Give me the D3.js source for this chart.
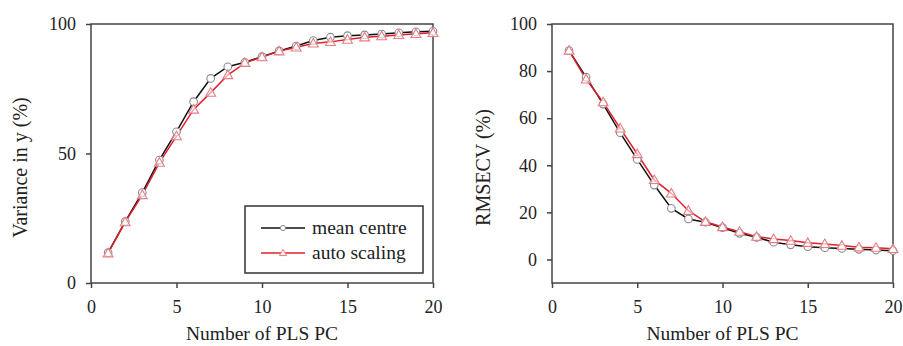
<!DOCTYPE html>
<html>
<head>
<meta charset="utf-8">
<script src="https://cdn.jsdelivr.net/npm/d3@7"></script>
<style>
  body { margin: 0; background: #fff; }
  svg { display: block; }
  text { font-family: "Liberation Serif", "DejaVu Serif", serif; fill: #222; }
  .axis path, .axis line { stroke: #444; stroke-width: 1.5; }
  .axis text { font-size: 18px; }
</style>
</head>
<body>
<svg id="chart" width="903" height="346"></svg>
<script>
var pcs = d3.range(1, 21);

// left panel: variance in y (%)
var varMean = [11.7, 23.7, 34.9, 47.5, 58.4, 70, 79, 83.5, 85.2, 87.4,
               89.6, 91.5, 93.6, 94.9, 95.5, 95.8, 96.1, 96.6, 97, 97.2];
var varAuto = [11.5, 23.5, 34, 46.5, 56.7, 67, 73.5, 80.3, 85, 87.2,
               89.5, 91, 92.5, 93.1, 94, 94.9, 95.3, 95.8, 96.2, 96.6];

// right panel: RMSECV (%)
var rmMean = [88.7, 77.4, 66, 53.8, 42.5, 31.6, 21.7, 17.2, 15.8, 13.5,
              11.1, 9.4, 7.3, 6.2, 5.4, 5.0, 4.7, 4.3, 4.0, 3.7];
var rmAuto = [88.7, 76.5, 66.8, 55.7, 44.8, 33.8, 28.1, 20.7, 16, 13.8,
              11.8, 9.7, 8.7, 8, 7.1, 6.6, 5.9, 5.2, 5.0, 4.5];

var xTicks = [0, 5, 10, 15, 20];
var leftYTicks = [0, 50, 100];
var rightYTicks = [0, 20, 40, 60, 80, 100];
var seriesNames = ["mean centre", "auto scaling"];

var svg = d3.select("#chart");
var tri = d3.symbol().type(d3.symbolTriangle);

function panel(opt) {
  var x = d3.scaleLinear().domain([0, 20]).range([opt.left, opt.right]);
  var y = d3.scaleLinear().domain(opt.ydom).range([opt.bottom, opt.top]);
  var g = svg.append("g");

  // frame
  g.append("rect")
    .attr("x", opt.left).attr("y", opt.top)
    .attr("width", opt.right - opt.left).attr("height", opt.bottom - opt.top)
    .attr("fill", "none").attr("stroke", "#444").attr("stroke-width", 1.5);

  g.append("g").attr("class", "axis")
    .attr("transform", "translate(0," + opt.bottom + ")")
    .call(d3.axisBottom(x).tickValues(xTicks).tickSize(5).tickPadding(12).tickSizeOuter(0))
    .call(s => s.select(".domain").remove());

  g.append("g").attr("class", "axis")
    .attr("transform", "translate(" + opt.left + ",0)")
    .call(d3.axisLeft(y).tickValues(opt.yticks).tickSize(5).tickPadding(10).tickSizeOuter(0))
    .call(s => s.select(".domain").remove());

  var line = d3.line().x((d, i) => x(pcs[i])).y(d => y(d));

  g.append("path").datum(opt.mean)
    .attr("d", line).attr("fill", "none").attr("stroke", "#111").attr("stroke-width", 1.5);
  g.append("path").datum(opt.auto)
    .attr("d", line).attr("fill", "none").attr("stroke", "#e0202a").attr("stroke-width", 1.5);

  g.selectAll(".c").data(opt.mean).enter().append("circle")
    .attr("cx", (d, i) => x(pcs[i])).attr("cy", d => y(d)).attr("r", 3.8)
    .attr("fill", "#fff").attr("stroke", "#8a8a8a").attr("stroke-width", 1.1);
  g.selectAll(".t").data(opt.auto).enter().append("path")
    .attr("d", tri.size(42))
    .attr("transform", (d, i) => "translate(" + x(pcs[i]) + "," + (y(d) + 0.8) + ")")
    .attr("fill", "#fff").attr("fill-opacity", 0.6)
    .attr("stroke", "#e87c84").attr("stroke-width", 1.1);

  g.append("text")
    .attr("x", (opt.left + opt.right) / 2).attr("y", 340)
    .attr("text-anchor", "middle").attr("font-size", 19.5)
    .text("Number of PLS PC");
  g.append("text")
    .attr("transform", "translate(" + opt.titleX + "," + ((opt.top + opt.bottom) / 2 + 14) + ") rotate(-90)")
    .attr("text-anchor", "middle").attr("font-size", 20)
    .text(opt.ytitle);
  return g;
}

var left = panel({
  left: 91, right: 433, top: 24, bottom: 283,
  ydom: [0, 100], yticks: leftYTicks,
  mean: varMean, auto: varAuto,
  ytitle: "Variance in y (%)", titleX: 27
});

panel({
  left: 552, right: 893, top: 24, bottom: 283,
  ydom: [-10, 100], yticks: rightYTicks,
  mean: rmMean, auto: rmAuto,
  ytitle: "RMSECV (%)", titleX: 490
});

// legend
var lg = left.append("g");
lg.append("rect").attr("x", 245).attr("y", 206).attr("width", 178).attr("height", 67)
  .attr("fill", "#fff").attr("stroke", "#333").attr("stroke-width", 1.5);
seriesNames.forEach(function (name, i) {
  var cy = 228 + i * 25;
  lg.append("line").attr("x1", 261).attr("x2", 305).attr("y1", cy).attr("y2", cy)
    .attr("stroke", i ? "#e0202a" : "#111").attr("stroke-width", 1.4);
  if (i === 0) {
    lg.append("circle").attr("cx", 283).attr("cy", cy).attr("r", 2.6)
      .attr("fill", "#fff").attr("stroke", "#8a8a8a");
  } else {
    lg.append("path").attr("d", tri.size(22))
      .attr("transform", "translate(283," + (cy + 0.5) + ")")
      .attr("fill", "#fff").attr("stroke", "#e87c84");
  }
  lg.append("text").attr("x", 312).attr("y", cy + 6)
    .attr("font-size", 19.5).text(name);
});
</script>
</body>
</html>
